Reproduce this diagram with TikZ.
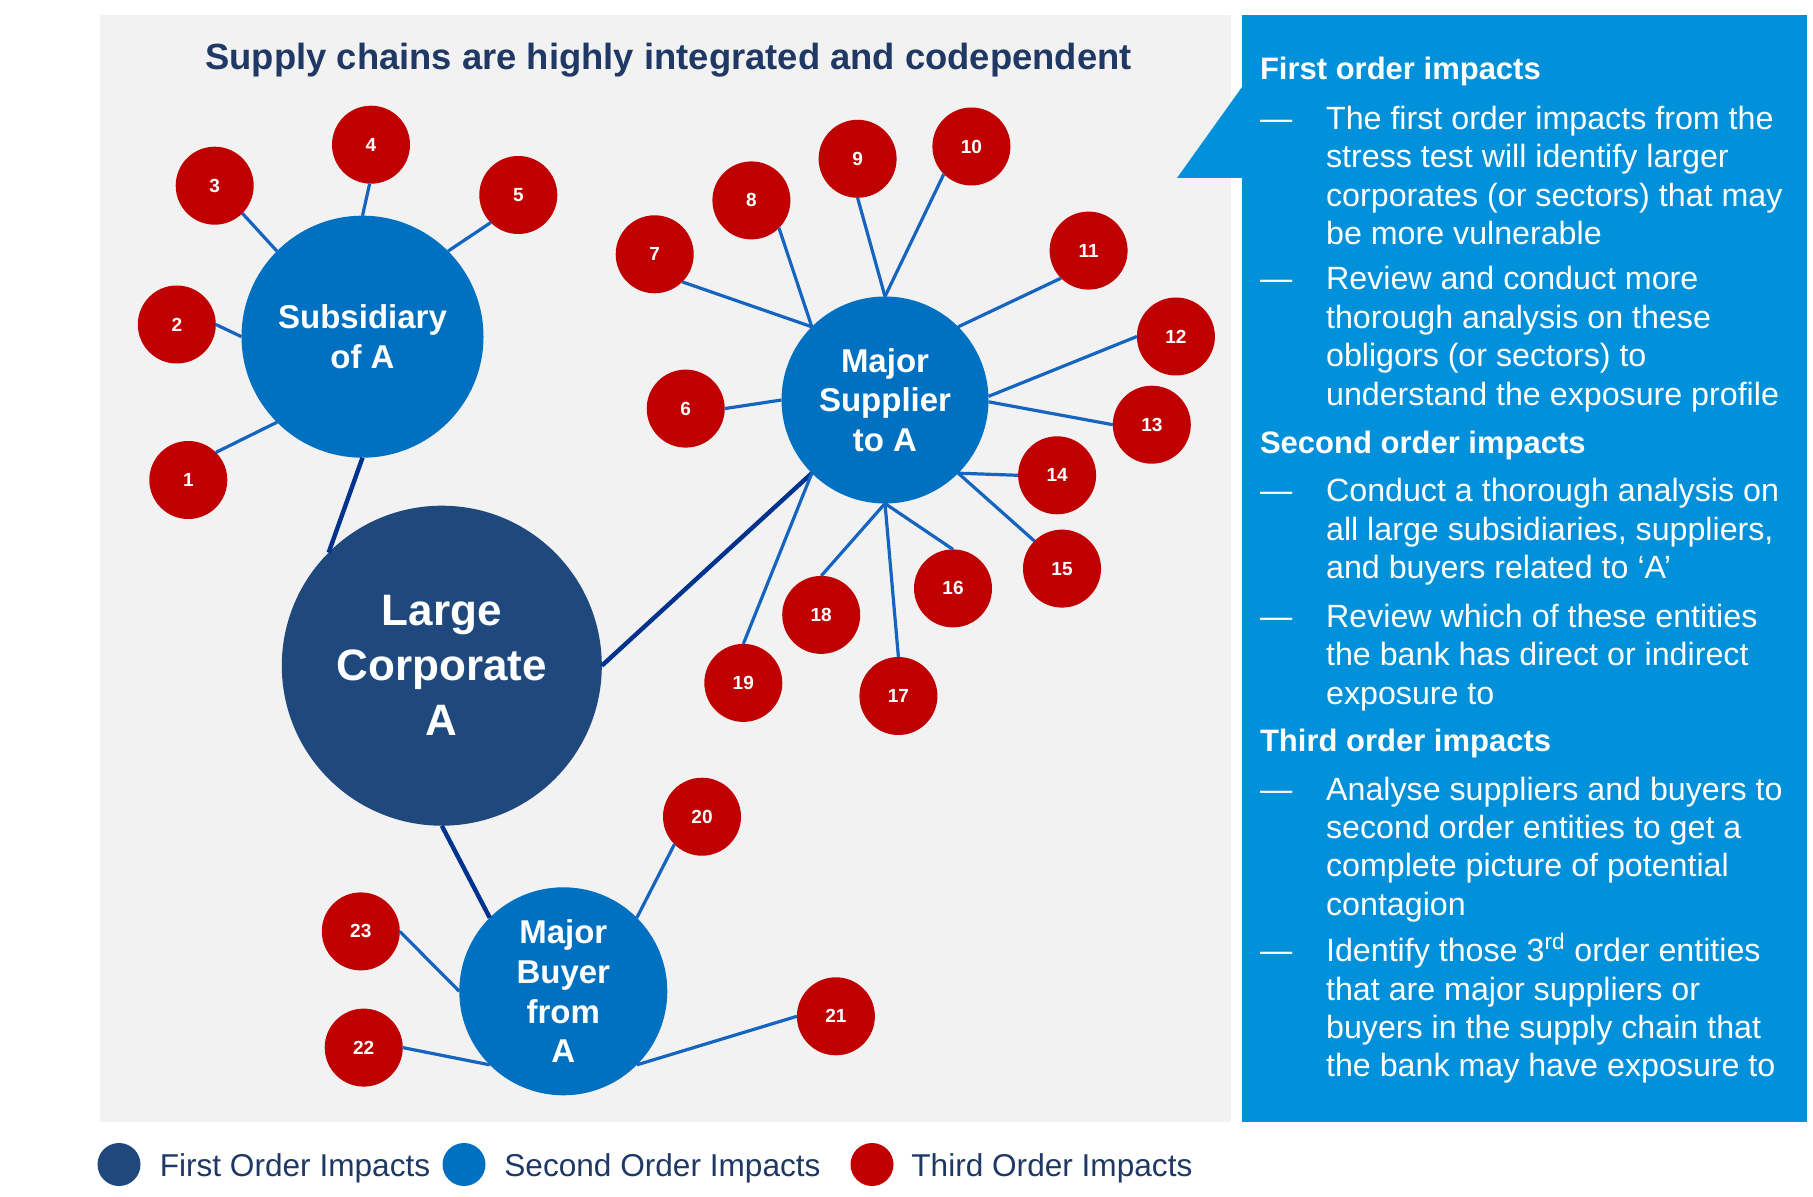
\documentclass[tikz,border=0pt]{standalone}
\usepackage{fontspec}
\setmainfont{Liberation Sans}
\usepackage{xcolor}
\usepackage{tikz}
\usetikzlibrary{shapes.geometric, positioning}
\definecolor{panelgrey}{RGB}{242, 242, 242}
\definecolor{panelblue}{RGB}{0, 145, 218}
\definecolor{firstnavy}{RGB}{31, 73, 125}
\definecolor{secondblue}{RGB}{0, 112, 192}
\definecolor{thirdred}{RGB}{192, 0, 0}
\definecolor{linkblue}{RGB}{21, 101, 192}
\definecolor{linknavy}{RGB}{0, 51, 141}
\definecolor{titlenavy}{RGB}{31, 56, 100}

\tikzset{
    firstorder/.style={circle, fill=firstnavy, inner sep=0pt, outer sep=0pt, minimum size=160pt,
          text=white, align=center, font=\bfseries\fontsize{22}{27.5}\selectfont},
    secondorder/.style={circle, fill=secondblue, inner sep=0pt, outer sep=0pt,
          text=white, align=center, font=\bfseries\fontsize{16.5}{19.8}\selectfont},
    thirdorder/.style={circle, fill=thirdred, inner sep=0pt, outer sep=0pt, minimum size=39pt,
          text=white, font=\bfseries\fontsize{9.5}{11}\selectfont},
    link/.style={draw=linkblue, line width=1.6pt},
    mainlink/.style={draw=linknavy, line width=2.2pt},
    heading/.style={anchor=base west, inner sep=0pt, text=white, font=\bfseries\fontsize{15.5}{18}\selectfont},
    bullettext/.style={anchor=base west, inner sep=0pt, text=white, font=\fontsize{16.1}{19.2}\selectfont},
    legenddot/.style={circle, inner sep=0pt, minimum size=21.5pt},
    legendtext/.style={anchor=base west, inner sep=0pt, text=titlenavy, font=\fontsize{15.8}{18}\selectfont}
}

\begin{document}
\begin{tikzpicture}[x=0.5pt, y=-0.5pt]
    \useasboundingbox (0,0) rectangle (1813,1197);

    % panels
    \fill[panelgrey] (100,15) rectangle (1231,1122);
    \fill[panelblue] (1242,15) rectangle (1807,1122);
    \fill[panelblue] (1242,87) -- (1177,178) -- (1243,178) -- cycle;

    \node[anchor=base, inner sep=0pt, text=titlenavy, font=\bfseries\fontsize{18.2}{21}\selectfont] (title)
          at (668.5,70) {Supply chains are highly integrated and codependent};

    % first and second order
    \node[firstorder] (large) at (441.8,665.7) {Large\\Corporate\\A};
    \node[secondorder, minimum size=121pt] (subsid) at (362.5,336.7) {Subsidiary\\of A};
    \node[secondorder, minimum size=103.5pt] (supplier) at (885,400) {Major\\Supplier\\to A};
    \node[secondorder, minimum size=104pt] (buyer) at (563.3,991.3) {Major\\Buyer\\from\\A};

    % third order
    \node[thirdorder] (r1) at (188.3,480) {1};
    \node[thirdorder] (r2) at (176.8,324.5) {2};
    \node[thirdorder] (r3) at (214.7,185.7) {3};
    \node[thirdorder] (r4) at (371,144.7) {4};
    \node[thirdorder] (r5) at (518.3,195) {5};
    \node[thirdorder] (r6) at (685.7,408.6) {6};
    \node[thirdorder] (r7) at (654.7,254.3) {7};
    \node[thirdorder] (r8) at (751.4,200.4) {8};
    \node[thirdorder] (r9) at (857.6,158.8) {9};
    \node[thirdorder] (r10) at (971.4,146.5) {10};
    \node[thirdorder] (r11) at (1088.6,250.6) {11};
    \node[thirdorder] (r12) at (1175.9,336.5) {12};
    \node[thirdorder] (r13) at (1151.8,424.7) {13};
    \node[thirdorder] (r14) at (1057.1,475.3) {14};
    \node[thirdorder] (r15) at (1062,568.6) {15};
    \node[thirdorder] (r16) at (953,588.4) {16};
    \node[thirdorder] (r17) at (898.4,696) {17};
    \node[thirdorder] (r18) at (821.2,614.9) {18};
    \node[thirdorder] (r19) at (743.3,682.9) {19};
    \node[thirdorder] (r20) at (702,816.7) {20};
    \node[thirdorder] (r21) at (835.9,1016.3) {21};
    \node[thirdorder] (r22) at (363.7,1047.6) {22};
    \node[thirdorder] (r23) at (360.8,931.4) {23};

    % links
    \draw[mainlink] (large.135) -- (subsid.270);
    \draw[mainlink] (large.0) -- (supplier.225);
    \draw[mainlink] (large.270) -- (buyer.135);

    \draw[link] (subsid.225) -- (r1.45);
    \draw[link] (subsid.180) -- (r2.0);
    \draw[link] (subsid.135) -- (r3.-45);
    \draw[link] (subsid.90) -- (r4.268);
    \draw[link] (subsid.45) -- (r5.225);

    \draw[link] (supplier.180) -- (r6.0);
    \draw[link] (supplier.135) -- (r7.-45);
    \draw[link] (supplier.135) -- (r8.-45);
    \draw[link] (supplier.90) -- (r9.270);
    \draw[link] (supplier.90) -- (r10.225);
    \draw[link] (supplier.45) -- (r11.225);
    \draw[link] (supplier.2) -- (r12.180);
    \draw[link] (supplier.-1) -- (r13.180);
    \draw[link] (supplier.-45) -- (r14.180);
    \draw[link] (supplier.-45) -- (r15.135);
    \draw[link] (supplier.270) -- (r16.90);
    \draw[link] (supplier.270) -- (r17.90);
    \draw[link] (supplier.270) -- (r18.90);
    \draw[link] (supplier.225) -- (r19.90);

    \draw[link] (buyer.45) -- (r20.225);
    \draw[link] (buyer.-45) -- (r21.180);
    \draw[link] (buyer.225) -- (r22.0);
    \draw[link] (buyer.180) -- (r23.0);

    % side panel text
    \node[heading] (firsthead) at (1259.6,80) {First order impacts};
    \node[bullettext] (dash1) at (1259.6,129.3) {—};
    \node[bullettext] (item1) at (1325.7,129.3) {\parbox[t]{260pt}{The first order impacts from the\\stress test will identify larger\\corporates (or sectors) that may\\be more vulnerable}};
    \node[bullettext] (dash2) at (1259.6,290) {—};
    \node[bullettext] (item2) at (1325.7,290) {\parbox[t]{260pt}{Review and conduct more\\thorough analysis on these\\obligors (or sectors) to\\understand the exposure profile}};

    \node[heading] (secondhead) at (1259.6,453) {Second order impacts};
    \node[bullettext] (dash3) at (1259.6,501.7) {—};
    \node[bullettext] (item3) at (1325.7,501.7) {\parbox[t]{260pt}{Conduct a thorough analysis on\\all large subsidiaries, suppliers,\\and buyers related to ‘A’}};
    \node[bullettext] (dash4) at (1259.6,627.3) {—};
    \node[bullettext] (item4) at (1325.7,627.3) {\parbox[t]{260pt}{Review which of these entities\\the bank has direct or indirect\\exposure to}};

    \node[heading] (thirdhead) at (1259.6,751.7) {Third order impacts};
    \node[bullettext] (dash5) at (1259.6,800) {—};
    \node[bullettext] (item5) at (1325.7,800) {\parbox[t]{260pt}{Analyse suppliers and buyers to\\second order entities to get a\\complete picture of potential\\contagion}};
    \node[bullettext] (dash6) at (1259.6,961.7) {—};
    \node[bullettext] (item6) at (1325.7,961.7) {\parbox[t]{260pt}{Identify those 3\textsuperscript{rd} order entities\\that are major suppliers or\\buyers in the supply chain that\\the bank may have exposure to}};

    % legend
    \node[legenddot, fill=firstnavy] (keyfirst) at (119,1164.5) {};
    \node[legendtext] (keyfirsttext) at (159.4,1176) {First Order Impacts};
    \node[legenddot, fill=secondblue] (keysecond) at (464,1164.5) {};
    \node[legendtext] (keysecondtext) at (504,1176) {Second Order Impacts};
    \node[legenddot, fill=thirdred] (keythird) at (872,1164.5) {};
    \node[legendtext] (keythirdtext) at (911,1176) {Third Order Impacts};
\end{tikzpicture}
\end{document}
